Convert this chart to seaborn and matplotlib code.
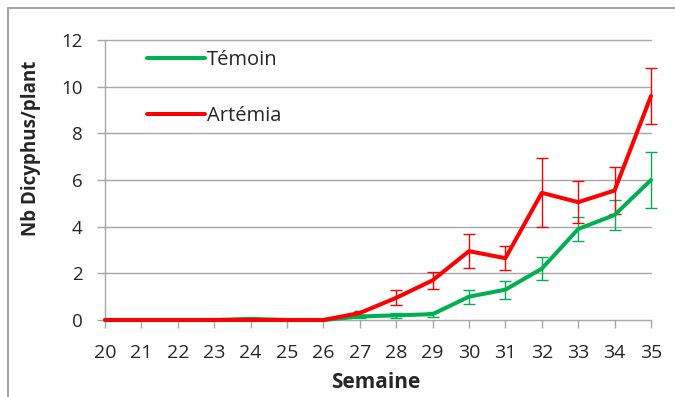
import matplotlib
matplotlib.use("Agg")
import matplotlib.pyplot as plt
import seaborn as sns
import pandas as pd
from matplotlib.patches import Rectangle

semaines = list(range(20, 36))
temoin = [0, 0, 0, 0, 0.05, 0, 0, 0.15, 0.2, 0.25, 1.0, 1.3, 2.2, 3.9, 4.5, 6.0]
temoin_err = [0, 0, 0, 0, 0, 0, 0, 0.05, 0.1, 0.1, 0.3, 0.38, 0.5, 0.52, 0.65, 1.2]
artemia = [0, 0, 0, 0, 0, 0, 0, 0.3, 0.95, 1.7, 2.95, 2.65, 5.45, 5.05, 5.55, 9.6]
artemia_err = [0, 0, 0, 0, 0, 0, 0, 0.1, 0.32, 0.37, 0.72, 0.52, 1.48, 0.9, 1.0, 1.2]
series_names = ["Témoin", "Artémia"]
colors = {"Témoin": "#00B050", "Artémia": "#FF0000"}
yticks = [0, 2, 4, 6, 8, 10, 12]

df = pd.DataFrame({
    "Semaine": semaines * 2,
    "val": temoin + artemia,
    "err": temoin_err + artemia_err,
    "serie": ["Témoin"] * len(semaines) + ["Artémia"] * len(semaines),
})

sns.set_theme(style="white")
plt.rcParams["font.family"] = ["Open Sans", "DejaVu Sans"]

fig = plt.figure(figsize=(6.75, 3.97), dpi=100)
ax = fig.add_axes([105 / 675, 1 - 320 / 397, (651 - 105) / 675, (320 - 40) / 397])

fig.patches.append(Rectangle((8 / 675, -0.01), 1.0, 1 - 8 / 397 + 0.01, transform=fig.transFigure,
                             fill=False, edgecolor="#A6A6A6", linewidth=1.5))

for y in yticks[1:]:
    ax.axhline(y, color="#A6A6A6", linewidth=1.0, zorder=0)

for name in series_names:
    sub = df[df.serie == name]
    mask = sub.err > 0
    eb = ax.errorbar(sub.Semaine[mask], sub.val[mask], yerr=sub.err[mask], fmt="none",
                     ecolor=colors[name], elinewidth=1.0, capsize=4.5, capthick=1.0, zorder=2)
    for art in list(eb.lines[1]) + list(eb.lines[2]):
        art.set_clip_on(False)

sns.lineplot(data=df, x="Semaine", y="val", hue="serie", palette=colors,
             hue_order=series_names, linewidth=2.9, ax=ax, zorder=3)
for ln in ax.get_lines():
    ln.set_clip_on(False)

ax.set_xlim(20, 35)
ax.set_ylim(0, 12)
ax.set_xticks(semaines)
ax.set_xticklabels([str(s) for s in semaines], fontsize=14, color="#262626")
ax.set_yticks(yticks)
ax.set_yticklabels([str(v) for v in yticks], fontsize=13.5, color="#262626")
ax.tick_params(axis="x", which="both", direction="out", length=6, color="#A6A6A6", width=1, bottom=True, pad=11)
ax.tick_params(axis="y", which="both", direction="out", length=6, color="#A6A6A6", width=1, left=True, pad=10)

for s in ["top", "right"]:
    ax.spines[s].set_visible(False)
for s in ["left", "bottom"]:
    ax.spines[s].set_visible(True)
    ax.spines[s].set_color("#A6A6A6")
    ax.spines[s].set_linewidth(1.0)

ax.set_xlabel("Semaine", fontsize=15, fontweight="bold")
ax.xaxis.set_label_coords((376 - 105) / (651 - 105), -(383 - 320) / 280)
ax.xaxis.label.set_va("center")
ax.set_ylabel("Nb Dicyphus/plant", fontsize=13.5, fontweight="bold")
ax.yaxis.set_label_coords(-(105 - 31) / 546, (320 - 148) / 280)
ax.yaxis.label.set_va("center")

leg = ax.legend(title=None, loc="upper left", bbox_to_anchor=(0.043, 1.03), frameon=False,
                fontsize=14.5, handlelength=2.9, labelspacing=1.8, handletextpad=0.1)

fig.savefig("out.png", dpi=100)
